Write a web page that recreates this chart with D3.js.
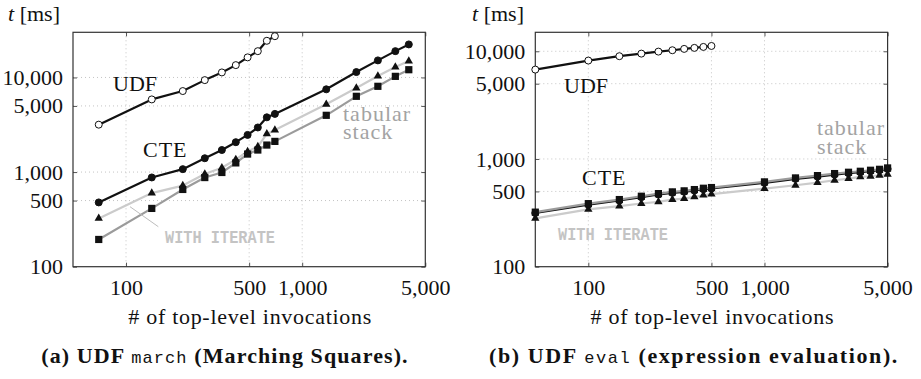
<!DOCTYPE html>
<html>
<head>
<meta charset="utf-8">
<script src="https://cdn.jsdelivr.net/npm/d3@7"></script>
<style>
  body { margin: 0; background: #fff; }
  svg { display: block; }
</style>
</head>
<body>
<div class="chart"></div>
<script>
// (a) UDF march -- x = # of top-level invocations, y = t [ms]
const marchN     = [70, 140, 210, 280, 350, 420, 490, 560, 630, 700, 1370, 2030, 2690, 3380, 4030];
const marchUDF   = [3170, 5860, 7180, 9370, 11300, 13500, 16300, 18960, 24400, 27300];
const marchCTE   = [478, 877, 1074, 1400, 1710, 2070, 2470, 2960, 3790, 4120, 7490, 11400, 15150, 18970, 22340];
const marchTab   = [194, 413, 655, 875, 990, 1250, 1550, 1710, 1930, 2110, 3980, 6320, 8060, 10270, 12070];
const marchIter  = [324, 600, 720, 955, 1110, 1360, 1650, 1860, 2530, 2780, 5200, 7730, 10350, 12880, 14900];

// (b) UDF eval
const evalN      = [50, 100, 150, 200, 250, 300, 350, 400, 450, 500, 1000, 1500, 2000, 2500, 3000, 3500, 4000, 4500, 5000];
const evalUDF    = [6760, 8200, 9000, 9510, 9930, 10220, 10520, 10750, 10970, 11200];
const evalCTE    = [315, 377, 412, 442, 468, 485, 496, 510, 524, 532, 601, 654, 687, 717, 738, 754, 770, 786, 809];
const evalTab    = [321, 385, 420, 451, 477, 495, 506, 520, 535, 543, 613, 667, 701, 732, 753, 769, 786, 802, 826];
const evalIter   = [281, 340, 365, 386, 400, 420, 429, 445, 461, 471, 531, 570, 604, 635, 657, 681, 691, 706, 721];

const xTicks = [100, 500, 1000, 5000];
const yTicks = [100, 500, 1000, 5000, 10000];

const SERIF = '"Liberation Serif", serif';
const MONO = '"Liberation Mono", monospace';

const svg = d3.select(".chart").append("svg")
  .attr("width", 921)
  .attr("height", 379)
  .style("font-family", SERIF);

const zip = (xs, ys) => ys.map((y, i) => ({x: xs[i], y: y}));

function drawPanel(cfg) {
  const g = svg.append("g").attr("transform", `translate(${cfg.left}, 0)`);
  const w = 352.3, top = 32.3, bottom = 266.7;

  const x = d3.scaleLog().domain([50, 5000]).range([0, w]);
  const y = d3.scaleLog().domain([100, cfg.ymax]).range([bottom, top]);
  const fmt = d3.format(",");

  // dotted grid
  g.append("g").selectAll("line")
    .data(xTicks.slice(0, 3))
    .join("line")
    .attr("x1", d => x(d)).attr("x2", d => x(d))
    .attr("y1", top).attr("y2", bottom)
    .attr("stroke", "#c4c4c4").attr("stroke-dasharray", "1,3");
  g.append("g").selectAll("line")
    .data(yTicks.slice(1))
    .join("line")
    .attr("x1", 0).attr("x2", w)
    .attr("y1", d => y(d)).attr("y2", d => y(d))
    .attr("stroke", "#c4c4c4").attr("stroke-dasharray", "1,3");

  // axes (ticks inside, on all four sides)
  const axB = g.append("g").attr("transform", `translate(0, ${bottom})`)
    .call(d3.axisBottom(x).tickValues(xTicks).tickFormat(fmt).tickSize(-4).tickPadding(10));
  const axL = g.append("g")
    .call(d3.axisLeft(y).tickValues(yTicks).tickFormat(fmt).tickSize(-4).tickPadding(10));
  g.append("g").attr("transform", `translate(0, ${top})`)
    .call(d3.axisTop(x).tickValues(xTicks).tickFormat("").tickSize(-4));
  g.append("g").attr("transform", `translate(${w}, 0)`)
    .call(d3.axisRight(y).tickValues(yTicks).tickFormat("").tickSize(-4));
  g.selectAll(".domain").remove();
  g.selectAll(".tick line").attr("stroke", "#555");
  g.selectAll(".tick text")
    .style("font-family", SERIF)
    .style("font-size", "22px")
    .attr("fill", "#111");
  axB.selectAll(".tick text").attr("dy", "0.85em");

  g.append("rect")
    .attr("x", 0).attr("y", top).attr("width", w).attr("height", bottom - top)
    .attr("fill", "none").attr("stroke", "#333").attr("stroke-width", 1.2);

  const line = d3.line().x(d => x(d.x)).y(d => y(d.y));

  const series = [
    {pts: zip(cfg.n, cfg.iter), color: "#cbcbcb", mark: "tri"},
    {pts: zip(cfg.n, cfg.cte), color: "#111", mark: "dot"},
    {pts: zip(cfg.n, cfg.tab), color: "#9b9b9b", mark: "sq"},
    {pts: zip(cfg.n, cfg.udf), color: "#111", mark: "open"}
  ];

  series.forEach(s => {
    g.append("path").datum(s.pts)
      .attr("d", line)
      .attr("fill", "none")
      .attr("stroke", s.color)
      .attr("stroke-width", 2.2)
      .attr("stroke-linejoin", "round");
    const m = g.append("g");
    if (s.mark === "sq") {
      m.selectAll("rect").data(s.pts).join("rect")
        .attr("x", d => x(d.x) - 3.6).attr("y", d => y(d.y) - 3.6)
        .attr("width", 7.2).attr("height", 7.2)
        .attr("fill", "#111");
    } else if (s.mark === "tri") {
      m.selectAll("path").data(s.pts).join("path")
        .attr("d", d3.symbol(d3.symbolTriangle, 30))
        .attr("transform", d => `translate(${x(d.x)}, ${y(d.y)})`)
        .attr("fill", "#111");
    } else {
      m.selectAll("circle").data(s.pts).join("circle")
        .attr("cx", d => x(d.x)).attr("cy", d => y(d.y))
        .attr("r", 3.5)
        .attr("fill", s.mark === "open" ? "#fff" : "#111")
        .attr("stroke", "#111").attr("stroke-width", 1);
    }
  });

  // labels inside the plot
  const lab = (lx, ly, color) => g.append("text")
    .attr("x", lx).attr("y", ly)
    .attr("fill", color)
    .style("font-family", SERIF)
    .style("font-size", "22px");
  lab(cfg.udfLab[0], cfg.udfLab[1], "#111").text("UDF");
  lab(cfg.cteLab[0], cfg.cteLab[1], "#111").style("letter-spacing", "1px").text("CTE");
  const tab = lab(cfg.tabLab[0], cfg.tabLab[1], "#a3a3a3").style("letter-spacing", "1px");
  tab.append("tspan").text("tabular");
  tab.append("tspan").attr("x", cfg.tabLab[0]).attr("dy", 18.6).text("stack");
  lab(cfg.iterLab[0], cfg.iterLab[1], "#c4c4c4")
    .style("font-family", MONO)
    .style("font-size", "19px")
    .style("font-weight", "bold")
    .attr("textLength", 110)
    .attr("lengthAdjust", "spacingAndGlyphs")
    .text("WITH ITERATE");
  if (cfg.leader) {
    g.append("line")
      .attr("x1", cfg.leader[0]).attr("y1", cfg.leader[1])
      .attr("x2", cfg.leader[2]).attr("y2", cfg.leader[3])
      .attr("stroke", "#bdbdbd").attr("stroke-width", 1);
  }

  // y axis title
  const yt = lab(cfg.tx, 21, "#111");
  yt.append("tspan").style("font-style", "italic").text("t");
  yt.append("tspan").text(" [ms]");

  // x axis title
  lab(w / 2 + 1, 324, "#111")
    .attr("text-anchor", "middle")
    .style("letter-spacing", "0.7px")
    .text("# of top-level invocations");

  // caption
  const cap = lab(cfg.capX, 363, "#111")
    .attr("text-anchor", "middle")
    .style("font-weight", "bold")
    .style("letter-spacing", cfg.capSpacing);
  cap.append("tspan").text(cfg.cap[0]);
  cap.append("tspan")
    .style("font-family", MONO).style("font-weight", "normal").style("font-size", "17px")
    .text(cfg.cap[1]);
  cap.append("tspan").text(cfg.cap[2]);
}

drawPanel({
  left: 73, ymax: 30000,
  n: marchN, udf: marchUDF, cte: marchCTE, tab: marchTab, iter: marchIter,
  udfLab: [40, 90.7], cteLab: [70, 156.7], tabLab: [270, 120.7], iterLab: [92, 243],
  leader: [57, 206.7, 85.3, 226.7],
  tx: -65, capX: 152, capSpacing: "1.1px",
  cap: ["(a) UDF ", "march", " (Marching Squares)."]
});

drawPanel({
  left: 535.3, ymax: 15000,
  n: evalN, udf: evalUDF, cte: evalCTE, tab: evalTab, iter: evalIter,
  udfLab: [28.7, 93], cteLab: [46.7, 185], tabLab: [281.7, 135], iterLab: [22.7, 240],
  leader: null,
  tx: -63.3, capX: 158.7, capSpacing: "1.6px",
  cap: ["(b) UDF ", "eval", " (expression evaluation)."]
});
</script>
</body>
</html>
